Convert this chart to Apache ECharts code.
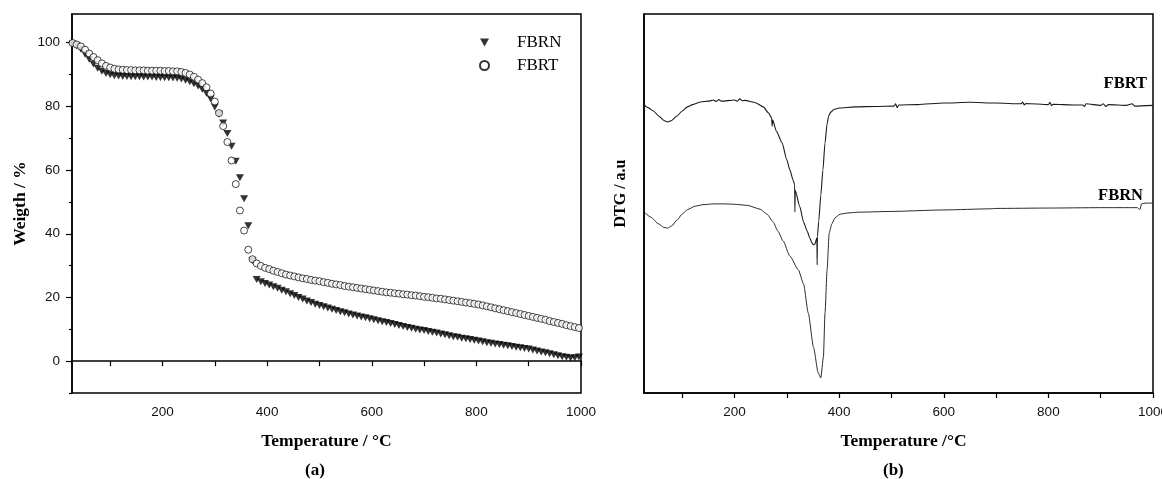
<!DOCTYPE html>
<html><head><meta charset="utf-8">
<script src="https://cdn.jsdelivr.net/npm/echarts@6/dist/echarts.min.js"></script>
<style>html,body{margin:0;padding:0;background:#fff;overflow:hidden}#c{width:1162px;height:479px}</style>
</head><body><div id="c"></div>
<script>
// ---------- TGA (a) ----------
const temps = [28,36,44,52,60,68,76,84,92,100,
108,116,124,132,140,148,156,164,172,180,
188,196,204,212,220,228,236,244,252,260,
268,276,284,292,300,308,316,324,332,340,
348,356,364,372,380,388,396,404,412,420,
428,436,444,452,460,468,476,484,492,500,
508,516,524,532,540,548,556,564,572,580,
588,596,604,612,620,628,636,644,652,660,
668,676,684,692,700,708,716,724,732,740,
748,756,764,772,780,788,796,804,812,820,
828,836,844,852,860,868,876,884,892,900,
908,916,924,932,940,948,956,964,972,980,
988,996];
const fbrnWeight = [99.6,99.0,97.9,96.4,94.8,93.3,92.0,91.0,90.3,89.9,
89.6,89.5,89.4,89.4,89.3,89.3,89.3,89.2,89.2,89.2,
89.1,89.1,89.0,89.0,88.9,88.8,88.6,88.2,87.7,87.1,
86.4,85.4,84.1,82.4,79.8,77.5,74.8,71.5,67.5,62.8,
57.6,51.0,42.5,31.5,25.6,24.9,24.4,23.9,23.4,22.9,
22.3,21.8,21.2,20.6,20.0,19.5,18.9,18.4,17.9,17.5,
17.1,16.7,16.3,15.9,15.5,15.2,14.8,14.5,14.2,13.9,
13.6,13.3,13.0,12.7,12.4,12.1,11.8,11.5,11.2,10.9,
10.6,10.3,10.0,9.8,9.6,9.3,9.1,8.8,8.5,8.3,
8.0,7.7,7.5,7.2,7.0,6.8,6.6,6.3,6.1,5.8,
5.6,5.4,5.2,5.0,4.8,4.6,4.4,4.2,4.0,3.8,
3.5,3.2,2.9,2.6,2.3,2.0,1.7,1.4,1.2,1.0,
1.1,1.3];
const fbrtWeight = [99.9,99.4,98.8,97.8,96.6,95.5,94.5,93.5,92.7,92.2,
91.8,91.6,91.5,91.4,91.4,91.3,91.3,91.3,91.2,91.2,
91.2,91.2,91.1,91.1,91.0,91.0,90.8,90.5,90.0,89.3,
88.4,87.3,86.0,84.0,81.5,77.9,73.8,68.8,63.0,55.6,
47.3,41.0,35.0,32.0,30.7,29.9,29.3,28.9,28.4,28.0,
27.6,27.2,26.9,26.6,26.3,26.0,25.8,25.5,25.3,25.1,
24.8,24.6,24.3,24.1,23.9,23.6,23.4,23.2,23.0,22.8,
22.6,22.4,22.2,22.0,21.8,21.6,21.5,21.3,21.2,21.0,
20.9,20.7,20.6,20.4,20.2,20.1,19.9,19.7,19.6,19.4,
19.2,19.0,18.8,18.6,18.4,18.2,18.0,17.8,17.5,17.2,
16.9,16.6,16.3,16.0,15.7,15.4,15.1,14.8,14.5,14.2,
13.9,13.6,13.3,13.0,12.6,12.3,12.0,11.7,11.3,11.0,
10.7,10.4];
const xTicks = [100,200,300,400,500,600,700,800,900,1000];
const xLabels = [200,400,600,800,1000];
const yLabels = [0,20,40,60,80,100];
const yMinorTicks = [-10,10,30,50,70,90];

// ---------- DTG (b), arbitrary units ----------
const dtgFbrtTemp = [27,35,45,55,65,72,80,90,100,110,120,135,150,160,165,170,175,200,205,210,215,220,240,255,265,
271,272,273,280,291,300,306,312,315,315.5,316,325,332,339,344,348,351,354,356,357.5,358,358.5,
361,365,369,373,377,380,384,390,400,430,470,505,508,511,514,550,600,650,700,748,751,754,757,
800,803,806,809,850,866,869,872,900,905,910,915,950,960,965,1000];
const dtgFbrt = [76.0,75.3,74.4,73.1,71.9,71.5,71.9,73.1,74.4,75.5,76.1,76.8,77.0,77.3,76.9,77.4,77.0,77.3,77.0,77.6,77.1,77.2,76.6,75.5,73.9,
72.6,70.4,72.0,69.1,66.0,61.5,58.8,56.2,54.9,47.8,53.5,49.1,45.1,42.7,40.9,39.6,39.1,39.3,40.4,40.9,33.8,41.4,
45.3,52.2,58.8,66.0,71.0,73.1,74.1,74.8,75.2,75.5,75.6,75.7,76.3,75.3,76.0,76.1,76.5,76.7,76.5,76.3,76.8,76.0,76.4,
76.1,76.7,75.8,76.2,76.0,76.0,75.6,76.3,75.9,76.3,75.6,76.1,75.9,76.3,75.7,75.9];
const dtgFbrnTemp = [27,40,55,65,72,80,90,100,110,125,140,160,180,200,225,249,262,274,283,293,306,322,332,341,351,360,365,
370,373,377,381,386,392,402,417,435,497,600,690,700,800,900,970,975,978,985,1000];
const dtgFbrn = [47.8,46.4,44.6,43.7,43.5,44.1,45.6,47.2,48.4,49.3,49.7,49.9,49.9,49.8,49.5,48.5,47.2,45.1,42.7,40.1,36.1,32.5,28.8,21.1,12.1,5.3,4.0,
9.5,21.1,32.5,42.2,44.6,46.2,47.2,47.5,47.7,47.9,48.3,48.6,48.7,48.8,48.9,48.9,48.4,49.9,50.1,50.1];

const serif = '"Liberation Serif", "Times New Roman", serif';
const sans = '"Liberation Sans", Arial, sans-serif';
const triDown = 'path://M0,0 L10,0 L5,9 Z';

function xAxisOf(gridIndex, name, pad) {
  return {
    type: 'value', gridIndex, min: 27, max: 1000,
    name, nameLocation: 'middle', nameGap: 39,
    nameTextStyle: {fontFamily: serif, fontWeight: 'bold', fontSize: 17.5, color: '#000', padding: pad},
    axisLine: {show: true, lineStyle: {color: '#000', width: 1.5}},
    axisTick: {show: true, customValues: xTicks, length: 5, lineStyle: {color: '#000', width: 1.2}},
    axisLabel: {show: true, customValues: xLabels, formatter: v => String(v), margin: 12,
      fontFamily: sans, fontSize: 13.5, color: '#111'},
    splitLine: {show: false}
  };
}

const chart = echarts.init(document.getElementById('c'));
chart.setOption({
  animation: false,
  backgroundColor: '#fff',
  grid: [
    {left: 72, top: 14, width: 509, height: 379, show: true, borderColor: '#000', borderWidth: 1.5,
      containLabel: false, outerBoundsMode: 'none'},
    {left: 644, top: 14, width: 509, height: 379, show: true, borderColor: '#000', borderWidth: 1.5,
      containLabel: false, outerBoundsMode: 'none'}
  ],
  legend: {
    data: ['FBRN', 'FBRT'], orient: 'vertical', left: 474, top: 29,
    itemWidth: 9, itemHeight: 9, itemGap: 6,
    textStyle: {fontFamily: serif, fontSize: 17, color: '#000', padding: [0, 0, 0, 23]}
  },
  xAxis: [xAxisOf(0, 'Temperature / °C', 0), xAxisOf(1, 'Temperature /°C', [0, 0, 0, 10])],
  yAxis: [
    {
      type: 'value', gridIndex: 0, min: -10, max: 109,
      name: 'Weigth / %', nameLocation: 'middle', nameGap: 43,
      nameTextStyle: {fontFamily: serif, fontWeight: 'bold', fontSize: 17.5, color: '#000'},
      axisLine: {show: true, lineStyle: {color: '#000', width: 1.5}},
      axisTick: {show: true, customValues: yLabels, length: 6, lineStyle: {color: '#000', width: 1.2}},
      axisLabel: {customValues: yLabels, margin: 12, fontFamily: sans, fontSize: 13.5, color: '#111'},
      splitLine: {show: false}
    },
    {
      type: 'value', gridIndex: 0, min: -10, max: 109, position: 'left',
      axisLine: {show: false},
      axisTick: {show: true, customValues: yMinorTicks, length: 3, lineStyle: {color: '#000', width: 1.2}},
      axisLabel: {show: false}, splitLine: {show: false}
    },
    {
      type: 'value', gridIndex: 1, min: 0, max: 100,
      name: 'DTG / a.u', nameLocation: 'middle', nameGap: 15,
      nameTextStyle: {fontFamily: serif, fontWeight: 'bold', fontSize: 16, color: '#000', padding: [0, 0, 0, 20]},
      axisLine: {show: true, lineStyle: {color: '#000', width: 1.5}},
      axisTick: {show: false}, axisLabel: {show: false}, splitLine: {show: false}
    }
  ],
  series: [
    {
      name: 'FBRN', type: 'scatter', xAxisIndex: 0, yAxisIndex: 0,
      symbol: triDown, symbolSize: [8, 7],
      itemStyle: {color: '#000'},
      data: temps.map((t, i) => [t, fbrnWeight[i]])
    },
    {
      name: 'FBRT', type: 'scatter', xAxisIndex: 0, yAxisIndex: 0,
      symbol: 'circle', symbolSize: 7,
      itemStyle: {color: '#fff', borderColor: '#000', borderWidth: 0.9},
      data: temps.map((t, i) => [t, fbrtWeight[i]])
    },
    {
      name: 'DTG FBRT', type: 'line', xAxisIndex: 1, yAxisIndex: 2,
      showSymbol: false, smooth: 0.2, smoothMonotone: 'x',
      lineStyle: {color: '#1a1a1a', width: 1.1},
      data: dtgFbrtTemp.map((t, i) => [t, dtgFbrt[i]])
    },
    {
      name: 'DTG FBRN', type: 'line', xAxisIndex: 1, yAxisIndex: 2,
      showSymbol: false, smooth: 0.2, smoothMonotone: 'x',
      lineStyle: {color: '#2a2a2a', width: 1},
      data: dtgFbrnTemp.map((t, i) => [t, dtgFbrn[i]])
    }
  ],
  graphic: [
    {type: 'text', left: 305, top: 462, style: {text: '(a)', font: 'bold 17px ' + serif, fill: '#000'}},
    {type: 'text', left: 883, top: 462, style: {text: '(b)', font: 'bold 17px ' + serif, fill: '#000'}},
    {type: 'text', right: 15, top: 75, style: {text: 'FBRT', font: 'bold 16.5px ' + serif, fill: '#000'}},
    {type: 'text', right: 19, top: 187, style: {text: 'FBRN', font: 'bold 16.5px ' + serif, fill: '#000'}}
  ]
});
</script></body></html>
